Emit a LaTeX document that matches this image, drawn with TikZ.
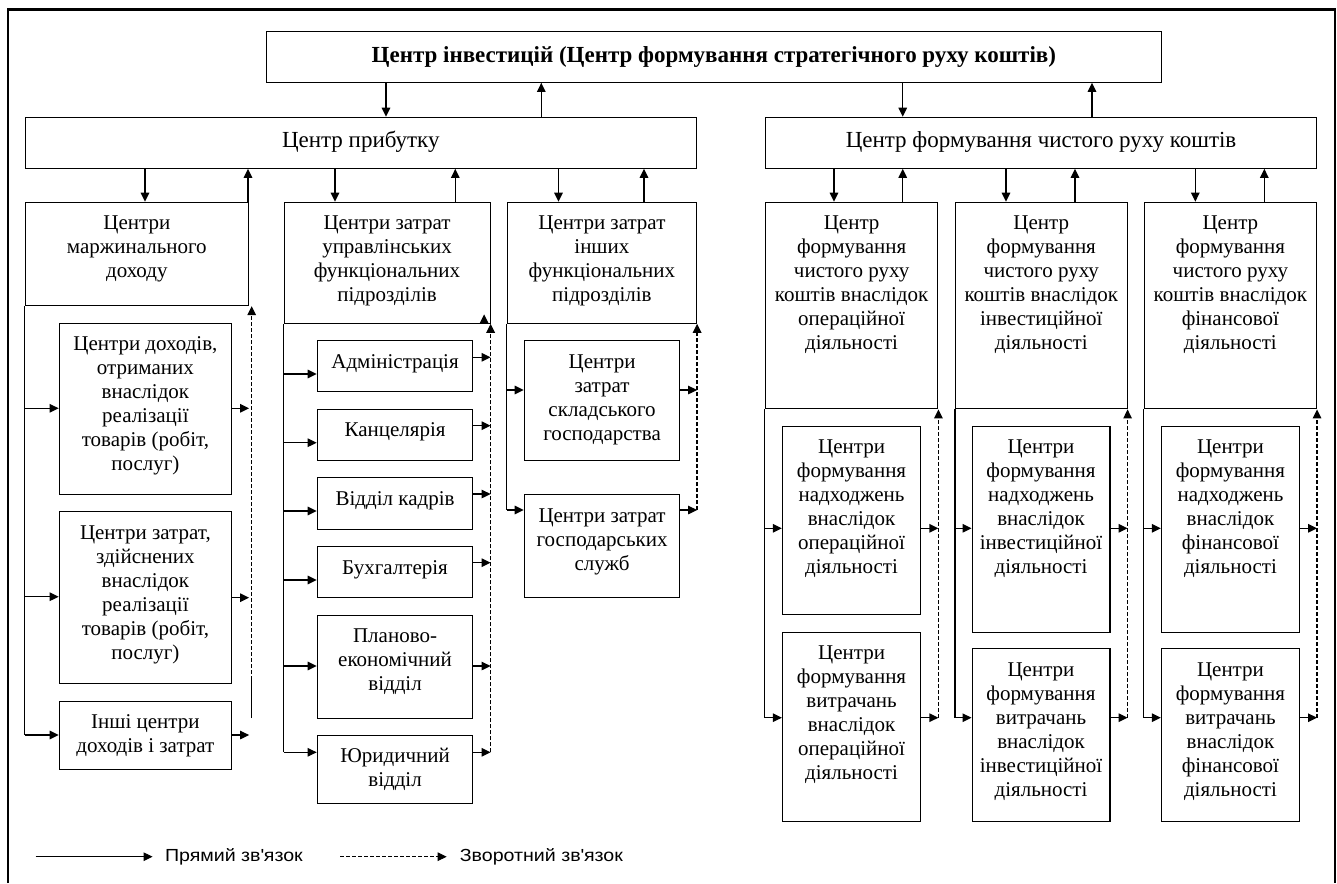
\documentclass[tikz,border=0pt]{standalone}
\usepackage{fontspec}
\setmainfont{Liberation Serif}
\newfontfamily\lgfont{Liberation Sans}[FakeStretch=1.12]
\usetikzlibrary{arrows.meta}
\newcommand\boxtxt[4][27.5]{\parbox[t][#3pt][t]{#2pt}{\centering\rule{0pt}{#1pt}#4}}
\tikzset{
  cell/.style={draw, line width=1.1pt, inner sep=0pt, anchor=north west,
    font=\fontsize{21}{24}\selectfont},
  head/.style={cell, font=\fontsize{23}{26}\selectfont},
  conn/.style={line width=1.3pt},
  fwd/.style={conn, -{Triangle[length=9pt,width=8.5pt]}},
  bwd/.style={fwd, dash pattern=on 4pt off 2pt},
  legend/.style={inner sep=0pt, anchor=west, font=\lgfont\fontsize{17.5}{20}\selectfont},
}
\begin{document}
\begin{tikzpicture}[x=1pt,y=-1pt]
\useasboundingbox (0,0) rectangle (1337,883);
\draw[line width=2.5pt] (8,883) -- (8,9.5) -- (1335,9.5) -- (1335,883);

\node[head] (invest) at (265.6,30.7) {\boxtxt[31]{895.4}{51}{\bfseries Центр інвестицій (Центр формування стратегічного руху коштів)}};
\node[head] (profit) at (24.5,116.7) {\boxtxt[30]{671.5}{51}{Центр прибутку}};
\node[head] (cash) at (765,116.7) {\boxtxt[30]{551}{51}{Центр формування чистого руху коштів}};

\node[cell] (marg) at (24.5,201.7) {\boxtxt{223.5}{103.3}{Центри\\маржинального\\доходу}};
\node[cell] (mgmt) at (283.5,201.7) {\boxtxt{206}{121}{Центри затрат\\управлінських\\функціональних\\підрозділів}};
\node[cell] (oth) at (506.7,201.7) {\boxtxt{189.3}{121}{Центри затрат\\інших\\функціональних\\підрозділів}};
\node[cell] (oper) at (764.8,201.7) {\boxtxt{172.5}{206.6}{Центр\\формування\\чистого руху\\коштів внаслідок\\операційної\\діяльності}};
\node[cell] (inves) at (955,201.7) {\boxtxt{171.5}{206.6}{Центр\\формування\\чистого руху\\коштів внаслідок\\інвестиційної\\діяльності}};
\node[cell] (finan) at (1143.7,201.7) {\boxtxt{172.2}{206.6}{Центр\\формування\\чистого руху\\коштів внаслідок\\фінансової\\діяльності}};

\node[cell] (inc) at (58.7,322.7) {\boxtxt{172.3}{171.3}{Центри доходів,\\отриманих\\внаслідок\\реалізації\\товарів (робіт,\\послуг)}};
\node[cell] (cost) at (58.7,511) {\boxtxt{172.3}{172.3}{Центри затрат,\\здійснених\\внаслідок\\реалізації\\товарів (робіт,\\послуг)}};
\node[cell] (misc) at (58.7,700.7) {\boxtxt{172.3}{68.3}{Інші центри\\доходів і затрат}};

\node[cell] (adm) at (316.7,340) {\boxtxt{155.6}{51}{Адміністрація}};
\node[cell] (chanc) at (316.7,408.7) {\boxtxt{155.6}{51.3}{Канцелярія}};
\node[cell] (hr) at (316.7,477.3) {\boxtxt{155.6}{51.4}{Відділ кадрів}};
\node[cell] (acc) at (316.7,546) {\boxtxt{155.6}{51.3}{Бухгалтерія}};
\node[cell] (plan) at (316.7,614.7) {\boxtxt{155.6}{103}{Планово-\\економічний\\відділ}};
\node[cell] (law) at (316.7,734.7) {\boxtxt{155.6}{68.6}{Юридичний\\відділ}};

\node[cell] (store) at (523.7,340) {\boxtxt{155.6}{120}{Центри\\затрат\\складського\\господарства}};
\node[cell] (serv) at (523.7,494.3) {\boxtxt{155.6}{102.4}{Центри затрат\\господарських\\служб}};

\node[cell] (operin) at (781.9,425.7) {\boxtxt{138.2}{188.6}{Центри\\формування\\надходжень\\внаслідок\\операційної\\діяльності}};
\node[cell] (operout) at (781.9,631.7) {\boxtxt{138.2}{189}{Центри\\формування\\витрачань\\внаслідок\\операційної\\діяльності}};
\node[cell] (invesin) at (971.5,425.7) {\boxtxt{137.9}{206}{Центри\\формування\\надходжень\\внаслідок\\інвестиційної\\діяльності}};
\node[cell] (invesout) at (971.5,648.3) {\boxtxt{137.9}{172.4}{Центри\\формування\\витрачань\\внаслідок\\інвестиційної\\діяльності}};
\node[cell] (finanin) at (1160.8,425.7) {\boxtxt{138.2}{206}{Центри\\формування\\надходжень\\внаслідок\\фінансової\\діяльності}};
\node[cell] (finanout) at (1160.8,648.3) {\boxtxt{138.2}{172.4}{Центри\\формування\\витрачань\\внаслідок\\фінансової\\діяльності}};

\foreach \a/\b/\x in {invest/profit/386, invest/cash/902.7, profit/marg/145, profit/mgmt/335,
    profit/oth/558.5, cash/oper/834, cash/inves/1006, cash/finan/1195.3}
  \draw[fwd] (\x,0 |- \a.south) -- (\x,0 |- \b.north);
\foreach \a/\b/\x in {invest/profit/541.3, invest/cash/1092, profit/marg/248, profit/mgmt/455.3,
    profit/oth/644, cash/oper/902.7, cash/inves/1075, cash/finan/1264.3}
  \draw[fwd] (\x,0 |- \b.north) -- (\x,0 |- \a.south);

\foreach \c/\y in {marg/735, mgmt/752.3, oth/510, oper/717.7, inves/717.7, finan/717.7}
  \draw[conn] (\c.south west) -- (\c.south west |- 0,\y);
\foreach \c/\b/\y in {marg/inc/408.3, marg/cost/596.7, marg/misc/735,
    mgmt/adm/374, mgmt/chanc/442.7, mgmt/hr/511, mgmt/acc/580, mgmt/plan/666, mgmt/law/752.3,
    oth/store/390, oth/serv/510, oper/operin/528.3, oper/operout/717.7,
    inves/invesin/528.3, inves/invesout/717.7, finan/finanin/528.3, finan/finanout/717.7}
  \draw[fwd] (\c.west |- 0,\y) -- (\b.west |- 0,\y);
\foreach \c/\b/\y in {marg/inc/408.3, marg/cost/597.7, marg/misc/735,
    mgmt/adm/357.3, mgmt/chanc/425.7, mgmt/hr/494, mgmt/acc/562.7, mgmt/plan/666, mgmt/law/752.3,
    oth/store/390, oth/serv/510, oper/operin/528.3, oper/operout/717.7,
    inves/invesin/528.3, inves/invesout/717.7, finan/finanin/528.3, finan/finanout/717.7}
  \draw[fwd] (\b.east |- 0,\y) -- (\c.east |- 0,\y);

\coordinate (margfb) at (251.7,718);
\draw[conn] (margfb) -- ++(0,-38);
\draw[bwd] (251.7,680) -- (margfb |- marg.south);
\draw[bwd] (mgmt.east |- 0,752.3) -- (mgmt.south east);
\draw[fwd] ([xshift=-6.5pt]mgmt.south east) -- ++(0,-9.5);
\draw[bwd] (oth.east |- 0,510) -- (oth.south east);
\foreach \c in {oper, inves, finan}
  \draw[bwd] (\c.east |- 0,717.7) -- (\c.south east);

\node[legend] (direct) at (164.8,856.7) {Прямий зв\textquotesingle язок};
\node[legend] (feedback) at (459.7,856.7) {Зворотний зв\textquotesingle язок};
\coordinate (directA) at (35.6,856.7);
\coordinate (feedbackA) at (340.4,856.7);
\draw[fwd, line width=1pt] (directA) -- ([xshift=-12.2pt]direct.west);
\draw[bwd, line width=1pt] (feedbackA) -- ([xshift=-13pt]feedback.west);
\end{tikzpicture}
\end{document}
